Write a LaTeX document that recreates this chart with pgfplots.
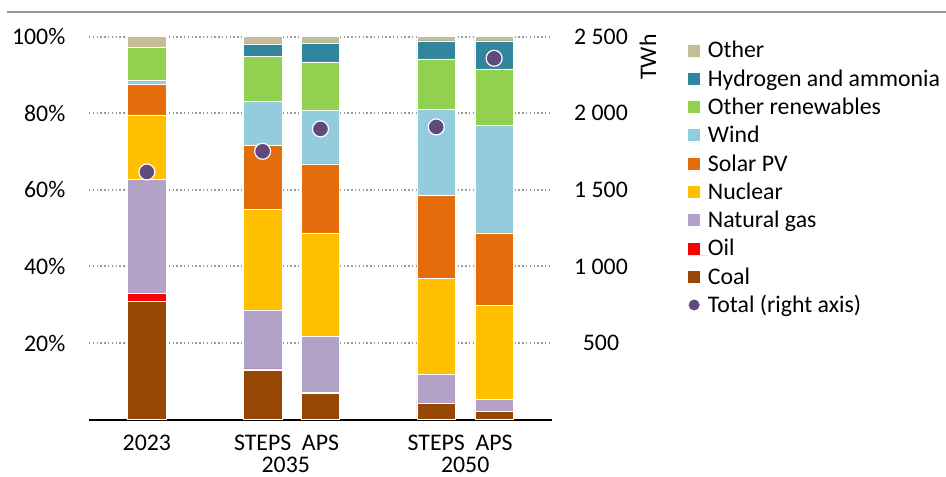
\documentclass[border=0pt]{standalone}
\usepackage{fontspec}
\setmainfont{Carlito}
\usepackage{pgfplots}
\pgfplotsset{compat=1.18}
\usepackage{pgfplotstable}
\definecolor{coal}{HTML}{974706}
\definecolor{oil}{HTML}{FF0000}
\definecolor{gas}{HTML}{B3A2C7}
\definecolor{nuc}{HTML}{FFC000}
\definecolor{solar}{HTML}{E46C0A}
\definecolor{wind}{HTML}{93CDDD}
\definecolor{oren}{HTML}{92D050}
\definecolor{hyd}{HTML}{31859C}
\definecolor{other}{HTML}{C4BD97}
\definecolor{dotc}{HTML}{604A7B}
\definecolor{gridgray}{HTML}{999999}
\definecolor{topgray}{HTML}{969696}
\newcommand{\fs}{\fontsize{11.9}{14}\selectfont}

\pgfplotstableread{
x coal oil gas nuc solar wind oren hyd other
0 31.0 2.0 29.8 16.8 8.0 1.0 8.7 0.0 2.7
2 12.8 0.5 15.3 26.3 16.8 11.4 11.7 3.3 1.9
3 6.9 0.2 14.75 26.95 18.0 14.0 12.6 5.0 1.6
5 4.3 0.0 7.6 25.0 21.6 22.5 13.2 4.7 1.1
6 2.1 0.0 3.3 24.5 18.9 28.1 14.7 7.3 1.1
}\shares
\pgfplotstableread{
x total
0 1617
2 1752
3 1898
5 1911
6 2359
}\totals

\begin{document}
\fs
\begin{tikzpicture}[font=\fs]
\path[use as bounding box] (0,0) rectangle (473pt,238pt);
\draw[line width=0.85pt, color=topgray] (3.5pt,232pt) -- (473pt,232pt);
\begin{axis}[
 at={(44.5pt,28.15pt)}, anchor=south west,
 scale only axis, width=231.5pt, height=191.5pt,
 xmin=-1, xmax=7, ymin=0, ymax=100,
 ybar stacked, bar width=19.25pt,
 axis x line*=bottom, axis y line*=left,
 x axis line style={-, black, line width=0.8pt},
 y axis line style={draw=none},
 major tick length=0pt,
 tick label style={font=\fs},
 xtick={0,2,3,5,6}, xticklabels={2023,STEPS,APS,STEPS,APS},
 xticklabel style={anchor=base, yshift=-15.35pt, inner sep=0pt},
 extra x ticks={2.4,5.5}, extra x tick labels={2035,2050},
 extra x tick style={xticklabel style={yshift=-11pt}},
 ytick={20,40,60,80,100}, yticklabels={20\%,40\%,60\%,80\%,100\%},
 yticklabel style={anchor=east, inner sep=0pt, xshift=-11.65pt},
 ymajorgrids, grid style={gridgray, line width=1pt, dash pattern=on 0.7pt off 1.2pt},
 legend image code/.code={\fill[#1] (0pt,0.55pt) rectangle (6.5pt,7.05pt); \path (0pt,0pt) -- (10pt,0pt);},
 reverse legend,
 legend style={at={(axis description cs:1.2916,0.9927)}, anchor=north west, draw=none, fill=none, inner sep=0pt, row sep=2.15pt, nodes={inner sep=0pt, text height=9pt, text depth=3pt, font=\fs}, cells={anchor=base west}},
 every axis plot/.append style={draw=white, line width=0.25pt},
]
\addlegendimage{legend image code/.code={\fill[dotc] (3.25pt,3.8pt) circle (2.6pt); \path (0pt,0pt) -- (10pt,0pt);}}
\addplot[fill=coal] table[x=x,y=coal]{\shares};
\addplot[fill=oil] table[x=x,y=oil]{\shares};
\addplot[fill=gas] table[x=x,y=gas]{\shares};
\addplot[fill=nuc] table[x=x,y=nuc]{\shares};
\addplot[fill=solar] table[x=x,y=solar]{\shares};
\addplot[fill=wind] table[x=x,y=wind]{\shares};
\addplot[fill=oren] table[x=x,y=oren]{\shares};
\addplot[fill=hyd] table[x=x,y=hyd]{\shares};
\addplot[fill=other] table[x=x,y=other]{\shares};
\legend{Total (right axis),Coal,Oil,Natural gas,Nuclear,Solar PV,Wind,Other renewables,Hydrogen and ammonia,Other}
\end{axis}
\begin{axis}[
 at={(44.5pt,28.15pt)}, anchor=south west,
 scale only axis, width=231.5pt, height=191.5pt,
 xmin=-1, xmax=7, ymin=0, ymax=2500,
 hide x axis, axis y line*=right, y axis line style={draw=none},
 major tick length=0pt,
 tick label style={font=\fs},
 ytick={500,1000,1500,2000,2500}, yticklabels={500,1 000,1 500,2 000,2 500},
 yticklabel style={anchor=center, inner sep=0pt, xshift=24.5pt},
 ylabel={TWh},
 every axis y label/.style={at={(axis description cs:1.2073,1.007)}, rotate=90, anchor=east, inner sep=0pt, font=\fs},
 clip=false,
]
\addplot[only marks, mark=*, mark size=4pt, mark options={fill=dotc, draw=white, line width=0.6pt}] table[x=x,y=total]{\totals};
\end{axis}
\end{tikzpicture}
\end{document}
